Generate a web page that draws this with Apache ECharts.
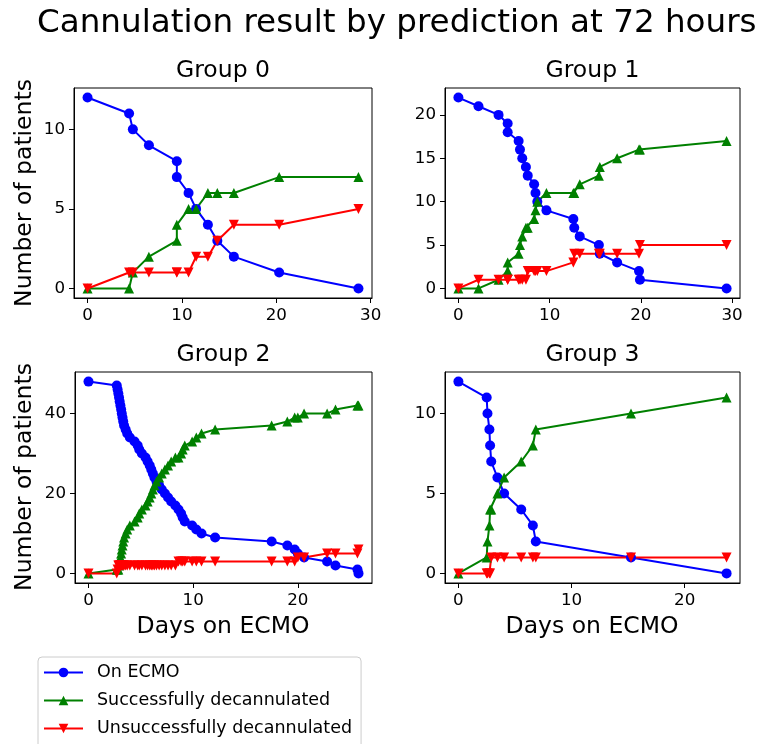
<!DOCTYPE html>
<html lang="en">
<head>
<meta charset="UTF-8">
<title>Cannulation result by prediction at 72 hours</title>
<script src="https://cdn.jsdelivr.net/npm/echarts@6/dist/echarts.min.js"></script>
<style>
  html, body { margin: 0; padding: 0; background: #fff; }
  #chart { width: 759px; height: 744px; }
</style>
</head>
<body>
<div id="chart"></div>
<script>
// Group 0
var days0 = [0, 4.4, 4.8, 6.5, 9.46, 9.46, 10.7, 11.5, 12.75, 13.75, 15.5, 20.3, 28.7];
var onEcmo0 = [12, 11, 10, 9, 8, 7, 6, 5, 4, 3, 2, 1, 0];
var success0 = [0, 0, 1, 2, 3, 4, 5, 5, 6, 6, 6, 7, 7];
var failure0 = [0, 1, 1, 1, 1, 1, 1, 2, 2, 3, 4, 4, 5];

// Group 1
var days1 = [0, 2.2, 4.4, 5.4, 5.4, 6.6, 6.75, 7.0, 7.4, 7.6, 8.3, 8.45, 8.65, 9.65, 12.6, 12.7, 13.3, 15.4, 15.5, 17.4, 19.8, 19.9, 29.4];
var onEcmo1 = [22, 21, 20, 19, 18, 17, 16, 15, 14, 13, 12, 11, 10, 9, 8, 7, 6, 5, 4, 3, 2, 1, 0];
var success1 = [0, 0, 1, 2, 3, 4, 5, 6, 7, 7, 8, 9, 10, 11, 11, 11, 12, 13, 14, 15, 16, 16, 17];
var failure1 = [0, 1, 1, 1, 1, 1, 1, 1, 1, 2, 2, 2, 2, 2, 3, 4, 4, 4, 4, 4, 4, 5, 5];

// Group 2
var days2 = [0, 2.7, 2.78, 2.85, 2.92, 2.98, 3.05, 3.12, 3.18, 3.25, 3.32, 3.4, 3.55, 3.7, 3.95,
  4.4, 4.7, 4.85, 5.1, 5.45, 5.65, 5.85, 6.0, 6.15, 6.3, 6.5, 6.75, 7.0, 7.3, 7.6, 7.9, 8.3,
  8.6, 8.85, 9.0, 9.2, 9.9, 10.3, 10.8, 12.1, 17.5, 19.0, 19.7, 20.0, 20.6, 22.8, 23.6, 25.7, 25.8];
var onEcmo2 = [48, 47, 46, 45, 44, 43, 42, 41, 40, 39, 38, 37, 36, 35, 34, 33, 32, 31, 30, 29, 28,
  27, 26, 25, 24, 23, 22, 21, 20, 19, 18, 17, 16, 15, 14, 13, 12, 11, 10, 9, 8, 7, 6, 5, 4, 3, 2, 1, 0];
var success2 = [0, 1, 1, 1, 2, 3, 4, 5, 6, 7, 8, 9, 10, 11, 12, 13, 14, 15, 16, 17, 18, 19, 20, 21,
  22, 23, 24, 25, 26, 27, 28, 29, 29, 30, 31, 32, 33, 34, 35, 36, 37, 38, 39, 39, 40, 40, 41, 42, 42];
var failure2 = [0, 0, 1, 2, 2, 2, 2, 2, 2, 2, 2, 2, 2, 2, 2, 2, 2, 2, 2, 2, 2, 2, 2, 2, 2, 2, 2, 2,
  2, 2, 2, 2, 3, 3, 3, 3, 3, 3, 3, 3, 3, 3, 3, 4, 4, 5, 5, 5, 6];

// Group 3
var days3 = [0, 2.5, 2.57, 2.74, 2.8, 2.9, 3.45, 4.04, 5.55, 6.58, 6.84, 15.25, 23.7];
var onEcmo3 = [12, 11, 10, 9, 8, 7, 6, 5, 4, 3, 2, 1, 0];
var success3 = [0, 1, 2, 3, 4, 4, 5, 6, 7, 8, 9, 10, 11];
var failure3 = [0, 0, 0, 0, 0, 1, 1, 1, 1, 1, 1, 1, 1];

var groupNames = ['Group 0', 'Group 1', 'Group 2', 'Group 3'];
var xTicks = [[0, 10, 20, 30], [0, 10, 20, 30], [0, 10, 20], [0, 10, 20]];
var yTicks = [[0, 5, 10], [0, 5, 10, 15, 20], [0, 20, 40], [0, 5, 10]];
var seriesNames = ['On ECMO', 'Successfully decannulated', 'Unsuccessfully decannulated'];

var groups = [
  { days: days0, vals: [onEcmo0, success0, failure0] },
  { days: days1, vals: [onEcmo1, success1, failure1] },
  { days: days2, vals: [onEcmo2, success2, failure2] },
  { days: days3, vals: [onEcmo3, success3, failure3] }
];

var FONT = 'DejaVu Sans';
var colors = ['#0000ff', '#008000', '#ff0000'];
var symbols = ['circle', 'triangle', 'triangle'];
var rotates = [0, 0, 180];

var boxes = [
  { left: 74, top: 88, width: 298, height: 210 },
  { left: 445, top: 88, width: 295, height: 210 },
  { left: 75, top: 372, width: 297, height: 211 },
  { left: 445, top: 372, width: 295, height: 211 }
];

// matplotlib-like 5% padding around the data
function padded(arr) {
  var lo = Math.min.apply(null, arr), hi = Math.max.apply(null, arr);
  var m = (hi - lo) * 0.05;
  return [lo - m, hi + m];
}

function axisCommon(k, ticks, range, pos) {
  return {
    type: 'value', gridIndex: k, min: range[0], max: range[1], position: pos,
    axisLine: { show: true, onZero: false, lineStyle: { color: '#000', width: 1 } },
    splitLine: { show: false },
    axisTick: { show: true, inside: false, length: 5, customValues: ticks, lineStyle: { color: '#000', width: 1 } },
    axisLabel: { show: true, inside: false, customValues: ticks, margin: 9, color: '#000', fontSize: 16.7, fontFamily: FONT }
  };
}

var grid = [], xAxis = [], yAxis = [], series = [], graphic = [];

groups.forEach(function (g, k) {
  var b = boxes[k];
  grid.push({ left: b.left, top: b.top, width: b.width, height: b.height,
    show: true, borderColor: '#000', borderWidth: 1, backgroundColor: '#fff' });

  var xr = padded(g.days);
  var yr = padded(g.vals[0].concat(g.vals[1], g.vals[2]));

  xAxis.push(axisCommon(k, xTicks[k], xr, 'bottom'));
  yAxis.push(axisCommon(k, yTicks[k], yr, 'left'));

  for (var s = 0; s < 3; s++) {
    series.push({
      name: seriesNames[s],
      type: 'line',
      xAxisIndex: k,
      yAxisIndex: k,
      data: g.days.map(function (d, i) { return [d, g.vals[s][i]]; }),
      symbol: symbols[s],
      symbolRotate: rotates[s],
      symbolSize: 10,
      showAllSymbol: true,
      color: colors[s],
      lineStyle: { color: colors[s], width: 2 },
      itemStyle: { color: colors[s] },
      emphasis: { disabled: true },
      animation: false
    });
  }

  graphic.push({
    type: 'text', x: b.left + b.width / 2, y: b.top - 17,
    style: { text: groupNames[k], fontSize: 23.5, fontFamily: FONT, fill: '#000',
      textAlign: 'center', textVerticalAlign: 'middle' }
  });
});

graphic.push({
  type: 'text', x: 37, y: 24,
  style: { text: 'Cannulation result by prediction at 72 hours', fontSize: 32.6, fontFamily: FONT,
    fill: '#000', textAlign: 'left', textVerticalAlign: 'middle' }
});
[193, 477].forEach(function (cy) {
  graphic.push({
    type: 'text', x: 25, y: cy, rotation: Math.PI / 2,
    style: { text: 'Number of patients', fontSize: 23.5, fontFamily: FONT, fill: '#000',
      textAlign: 'center', textVerticalAlign: 'middle' }
  });
});
[223, 592].forEach(function (cx) {
  graphic.push({
    type: 'text', x: cx, y: 627,
    style: { text: 'Days on ECMO', fontSize: 23.5, fontFamily: FONT, fill: '#000',
      textAlign: 'center', textVerticalAlign: 'middle' }
  });
});

var chart = echarts.init(document.getElementById('chart'), null, { renderer: 'canvas' });
chart.setOption({
  backgroundColor: '#fff',
  animation: false,
  grid: grid,
  xAxis: xAxis,
  yAxis: yAxis,
  series: series,
  graphic: graphic,
  legend: {
    data: seriesNames,
    orient: 'vertical',
    left: 38,
    top: 657,
    height: 300,
    padding: [5, 9, 30, 5],
    itemGap: 7,
    itemWidth: 39,
    itemHeight: 12,
    borderColor: '#cccccc',
    borderWidth: 1,
    borderRadius: 4,
    backgroundColor: 'rgba(255,255,255,0.8)',
    selectedMode: false,
    textStyle: { fontSize: 17.5, fontFamily: FONT, color: '#000', lineHeight: 21, padding: [0, 0, 0, 9] }
  }
});
</script>
</body>
</html>
